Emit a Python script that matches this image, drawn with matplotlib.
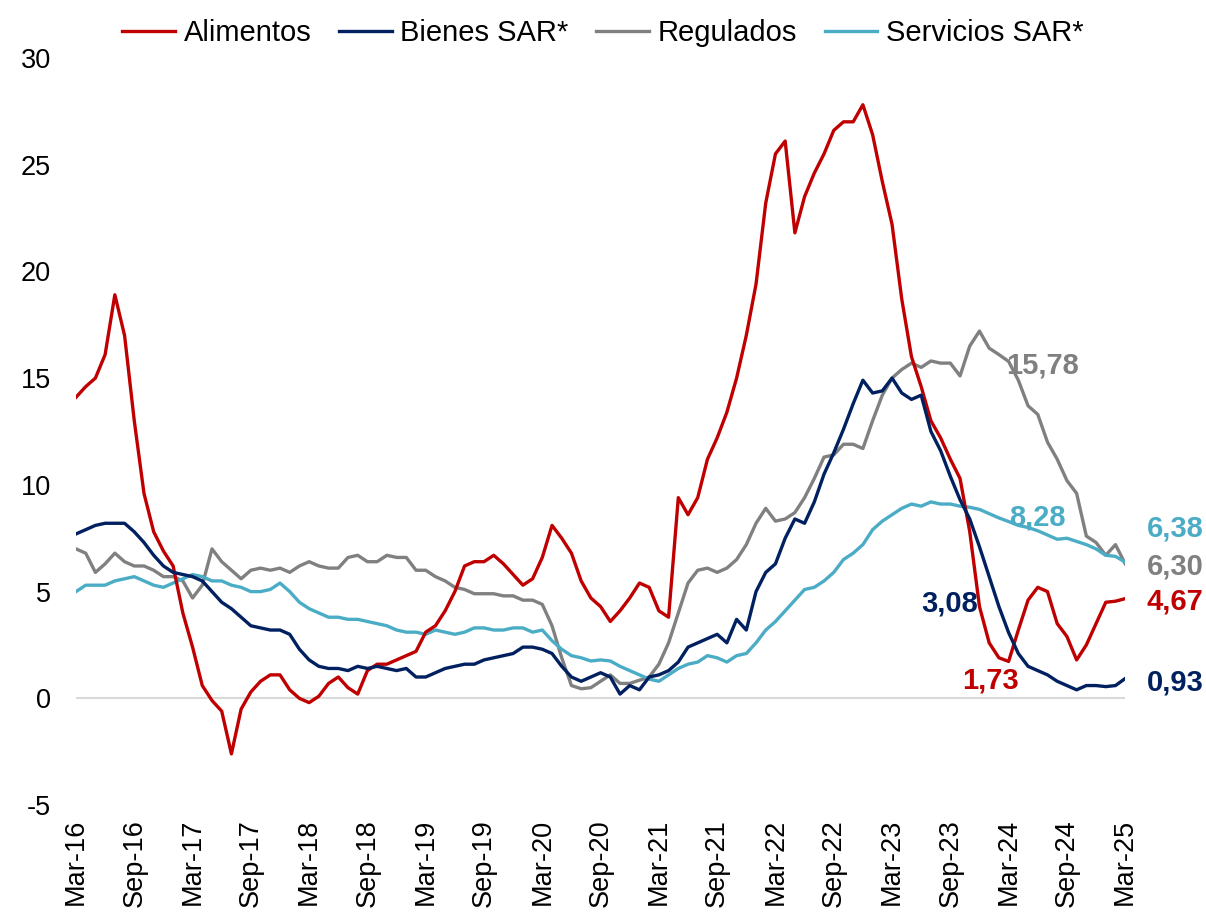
import matplotlib
matplotlib.use("Agg")
import matplotlib.pyplot as plt

plt.rcParams['font.family'] = ['Liberation Sans', 'DejaVu Sans']
plt.rcParams['axes.unicode_minus'] = False

# Monthly data, Mar-16 .. Mar-25 (109 months)
alimentos = [14.1, 14.6, 15.0, 16.1, 18.9, 17.0, 13.0, 9.6, 7.8, 6.9,
             6.2, 4.0, 2.4, 0.6, -0.1, -0.6, -2.6, -0.5, 0.3, 0.8,
             1.1, 1.1, 0.4, 0.0, -0.2, 0.1, 0.7, 1.0, 0.5, 0.2,
             1.3, 1.6, 1.6, 1.8, 2.0, 2.2, 3.1, 3.4, 4.1, 5.0,
             6.2, 6.4, 6.4, 6.7, 6.3, 5.8, 5.3, 5.6, 6.6, 8.1,
             7.5, 6.8, 5.5, 4.7, 4.3, 3.6, 4.1, 4.7, 5.4, 5.2,
             4.1, 3.8, 9.4, 8.6, 9.4, 11.2, 12.2, 13.4, 15.0, 17.0,
             19.4, 23.2, 25.5, 26.1, 21.8, 23.5, 24.6, 25.5, 26.6, 27.0,
             27.0, 27.8, 26.4, 24.2, 22.2, 18.7, 16.0, 14.6, 13.0, 12.2,
             11.2, 10.3, 7.8, 4.3, 2.6, 1.9, 1.73, 3.2, 4.6, 5.2,
             5.0, 3.5, 2.9, 1.8, 2.5, 3.5, 4.5, 4.55, 4.67]
bienes = [7.7, 7.9, 8.1, 8.2, 8.2, 8.2, 7.8, 7.3, 6.7, 6.2,
          5.9, 5.8, 5.7, 5.5, 5.0, 4.5, 4.2, 3.8, 3.4, 3.3,
          3.2, 3.2, 3.0, 2.3, 1.8, 1.5, 1.4, 1.4, 1.3, 1.5,
          1.4, 1.5, 1.4, 1.3, 1.4, 1.0, 1.0, 1.2, 1.4, 1.5,
          1.6, 1.6, 1.8, 1.9, 2.0, 2.1, 2.4, 2.4, 2.3, 2.1,
          1.5, 1.0, 0.8, 1.0, 1.2, 1.0, 0.2, 0.6, 0.4, 1.0,
          1.1, 1.3, 1.7, 2.4, 2.6, 2.8, 3.0, 2.6, 3.7, 3.2,
          5.0, 5.9, 6.3, 7.5, 8.4, 8.2, 9.2, 10.5, 11.5, 12.6,
          13.8, 14.9, 14.3, 14.4, 15.0, 14.3, 14.0, 14.2, 12.5, 11.6,
          10.4, 9.3, 8.4, 7.1, 5.7, 4.3, 3.08, 2.1, 1.5, 1.3,
          1.1, 0.8, 0.6, 0.4, 0.6, 0.6, 0.55, 0.6, 0.93]
regulados = [7.0, 6.8, 5.9, 6.3, 6.8, 6.4, 6.2, 6.2, 6.0, 5.7,
             5.7, 5.5, 4.7, 5.3, 7.0, 6.4, 6.0, 5.6, 6.0, 6.1,
             6.0, 6.1, 5.9, 6.2, 6.4, 6.2, 6.1, 6.1, 6.6, 6.7,
             6.4, 6.4, 6.7, 6.6, 6.6, 6.0, 6.0, 5.7, 5.5, 5.2,
             5.1, 4.9, 4.9, 4.9, 4.8, 4.8, 4.6, 4.6, 4.4, 3.4,
             1.9, 0.6, 0.45, 0.5, 0.8, 1.1, 0.7, 0.7, 0.85, 1.0,
             1.6, 2.6, 4.0, 5.4, 6.0, 6.1, 5.9, 6.1, 6.5, 7.2,
             8.2, 8.9, 8.3, 8.4, 8.7, 9.4, 10.3, 11.3, 11.4, 11.9,
             11.9, 11.7, 13.0, 14.2, 15.0, 15.4, 15.7, 15.5, 15.8, 15.7,
             15.7, 15.1, 16.5, 17.2, 16.4, 16.1, 15.78, 14.9, 13.7, 13.3,
             12.0, 11.2, 10.2, 9.6, 7.6, 7.3, 6.7, 7.2, 6.30]
servicios = [5.0, 5.3, 5.3, 5.3, 5.5, 5.6, 5.7, 5.5, 5.3, 5.2,
             5.4, 5.6, 5.8, 5.7, 5.5, 5.5, 5.3, 5.2, 5.0, 5.0,
             5.1, 5.4, 5.0, 4.5, 4.2, 4.0, 3.8, 3.8, 3.7, 3.7,
             3.6, 3.5, 3.4, 3.2, 3.1, 3.1, 3.0, 3.2, 3.1, 3.0,
             3.1, 3.3, 3.3, 3.2, 3.2, 3.3, 3.3, 3.1, 3.2, 2.7,
             2.3, 2.0, 1.9, 1.75, 1.8, 1.75, 1.5, 1.3, 1.1, 0.9,
             0.8, 1.1, 1.4, 1.6, 1.7, 2.0, 1.9, 1.7, 2.0, 2.1,
             2.6, 3.2, 3.6, 4.1, 4.6, 5.1, 5.2, 5.5, 5.9, 6.5,
             6.8, 7.2, 7.9, 8.3, 8.6, 8.9, 9.1, 9.0, 9.2, 9.1,
             9.1, 9.0, 8.95, 8.85, 8.65, 8.45, 8.28, 8.1, 8.0, 7.85,
             7.65, 7.45, 7.5, 7.35, 7.2, 7.0, 6.7, 6.65, 6.38]

tick_labels = ['Mar-16', 'Sep-16', 'Mar-17', 'Sep-17', 'Mar-18', 'Sep-18',
               'Mar-19', 'Sep-19', 'Mar-20', 'Sep-20', 'Mar-21', 'Sep-21',
               'Mar-22', 'Sep-22', 'Mar-23', 'Sep-23', 'Mar-24', 'Sep-24',
               'Mar-25']

RED = '#C00000'
NAVY = '#002060'
GRAY = '#808080'
CYAN = '#4BACC6'

fig = plt.figure(figsize=(12.06, 9.17), dpi=100)
ax = fig.add_axes([0.063, 0.122, 0.870, 0.815])

x = list(range(len(alimentos)))
ax.axhline(0, color='#D9D9D9', lw=1.5, zorder=1)
ax.plot(x, alimentos, color=RED, lw=2.4, label='Alimentos', zorder=3)
ax.plot(x, bienes, color=NAVY, lw=2.4, label='Bienes SAR*', zorder=3)
ax.plot(x, regulados, color=GRAY, lw=2.4, label='Regulados', zorder=2)
ax.plot(x, servicios, color=CYAN, lw=2.4, label='Servicios SAR*', zorder=2)

ax.set_xlim(0, len(alimentos) - 1)
ax.set_ylim(-5, 30)
ax.set_yticks(range(-5, 31, 5))
ax.set_xticks(range(0, len(alimentos), 6))
ax.set_xticklabels(tick_labels, rotation=90)
ax.tick_params(axis='both', length=0, labelsize=19.5)
ax.tick_params(axis='y', pad=18)
ax.tick_params(axis='x', pad=10)
for s in ax.spines.values():
    s.set_visible(False)


def fmt(v):
    return f"{v:.2f}".replace('.', ',')


def label(series, i, dx, dy, color):
    ax.annotate(fmt(series[i]), (i, series[i]), xytext=(dx, dy),
                textcoords='offset pixels', ha='center', va='center',
                fontsize=21, fontweight='bold', color=color,
                annotation_clip=False, zorder=5)


last = len(alimentos) - 1
label(regulados, 96, 34, -4, GRAY)
label(servicios, 96, 29, 4, CYAN)
label(bienes, 96, -59, 29, NAVY)
label(alimentos, 96, -18, -19, RED)
label(servicios, last, 50, 34, CYAN)
label(regulados, last, 50, -3, GRAY)
label(alimentos, last, 50, -3, RED)
label(bienes, last, 50, -4, NAVY)

fig.legend(loc='upper center', bbox_to_anchor=(0.5, 1.008), ncol=4,
           frameon=False, fontsize=21, handlelength=1.8,
           handletextpad=0.3, columnspacing=0.95)

plt.savefig('out.png', dpi=100)
